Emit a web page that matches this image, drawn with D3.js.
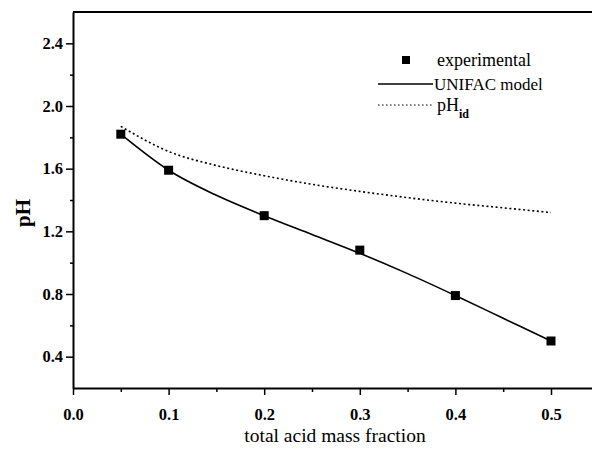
<!DOCTYPE html>
<html>
<head>
<meta charset="utf-8">
<script src="https://cdn.jsdelivr.net/npm/d3@7"></script>
<style>
  body { margin: 0; background: #fff; }
  svg { display: block; font-family: "Liberation Serif", "Times New Roman", serif; }
  text { fill: #000; }
</style>
</head>
<body>
<svg width="592" height="449"></svg>
<script>
// experimental points
const expX = [0.05, 0.1, 0.2, 0.3, 0.4, 0.5]
const expPH = [1.82, 1.59, 1.30, 1.08, 0.79, 0.50]

// UNIFAC model curve
const modelX = [0.05, 0.1, 0.15, 0.2, 0.25, 0.3, 0.35, 0.4, 0.45, 0.5]
const modelPH = [1.82, 1.59, 1.43, 1.30, 1.18, 1.06, 0.93, 0.79, 0.645, 0.50]

// ideal pH curve
const idX = [0.05, 0.1, 0.15, 0.2, 0.25, 0.3, 0.35, 0.4, 0.45, 0.5]
const idPH = [1.87, 1.71, 1.62, 1.555, 1.50, 1.455, 1.415, 1.38, 1.35, 1.32]

const xTicks = [0.0, 0.1, 0.2, 0.3, 0.4, 0.5]
const yTicks = [0.4, 0.8, 1.2, 1.6, 2.0, 2.4]

const plotLeft = 73, plotTop = 12, plotBottom = 388
const x = d3.scaleLinear([0, 0.55], [plotLeft, plotLeft + 0.55 * 956])
const y = d3.scaleLinear([0.2, 2.6], [plotBottom, plotTop])

const svg = d3.select('svg')

function styleTicks(g) {
    g.selectAll('text')
        .attr('font-size', 16.5).attr('font-weight', 'bold')
        .attr('font-family', 'Liberation Serif, serif').attr('fill', '#000')
}

// x axis, major + minor ticks
svg.append('g')
    .attr('transform', `translate(0,${plotBottom})`)
    .call(d3.axisBottom(x).tickValues(d3.range(0.05, 0.56, 0.1)).tickSize(4).tickFormat(''))
    .call(g => g.select('.domain').remove())
    .call(g => g.selectAll('line').attr('stroke-width', 1.5))
svg.append('g')
    .attr('transform', `translate(0,${plotBottom})`)
    .call(d3.axisBottom(x).tickValues(xTicks).tickSize(7).tickSizeOuter(0).tickPadding(13).tickFormat(d3.format('.1f')))
    .call(g => g.select('.domain').attr('stroke-width', 2))
    .call(g => g.selectAll('line').attr('stroke-width', 1.5))
    .call(styleTicks)

// y axis
svg.append('g')
    .attr('transform', `translate(${plotLeft},0)`)
    .call(d3.axisLeft(y).tickValues([0.6, 1.0, 1.4, 1.8, 2.2]).tickSize(3).tickFormat(''))
    .call(g => g.select('.domain').remove())
    .call(g => g.selectAll('line').attr('stroke-width', 1.5))
svg.append('g')
    .attr('transform', `translate(${plotLeft},0)`)
    .call(d3.axisLeft(y).tickValues(yTicks).tickSize(7).tickSizeOuter(0).tickPadding(3).tickFormat(d3.format('.1f')))
    .call(g => g.select('.domain').attr('stroke-width', 2))
    .call(g => g.selectAll('line').attr('stroke-width', 1.5))
    .call(styleTicks)

// top frame line
svg.append('line')
    .attr('x1', plotLeft).attr('x2', 592)
    .attr('y1', plotTop).attr('y2', plotTop)
    .attr('stroke', '#000').attr('stroke-width', 2)

const line = d3.line().x(d => x(d[0])).y(d => y(d[1])).curve(d3.curveMonotoneX)

svg.append('path')
    .datum(idX.map((v, i) => [v, idPH[i]]))
    .attr('d', line)
    .attr('fill', 'none').attr('stroke', '#000')
    .attr('stroke-width', 1.6).attr('stroke-dasharray', '2,2.6')

svg.append('path')
    .datum(modelX.map((v, i) => [v, modelPH[i]]))
    .attr('d', line)
    .attr('fill', 'none').attr('stroke', '#000').attr('stroke-width', 1.6)

svg.selectAll('rect.pt').data(expX.map((v, i) => [v, expPH[i]])).enter()
    .append('rect')
        .attr('class', 'pt')
        .attr('x', d => x(d[0]) - 4.5)
        .attr('y', d => y(d[1]) - 4.5)
        .attr('width', 9).attr('height', 9)
        .attr('fill', '#000')

// legend
const lg = svg.append('g')
lg.append('rect').attr('x', 402).attr('y', 56).attr('width', 8).attr('height', 8).attr('fill', '#000')
lg.append('text').attr('x', 437).attr('y', 66).attr('font-size', 18).text('experimental')
lg.append('line').attr('x1', 378).attr('x2', 433).attr('y1', 84).attr('y2', 84)
    .attr('stroke', '#000').attr('stroke-width', 1.4)
lg.append('text').attr('x', 434).attr('y', 90).attr('font-size', 17).text('UNIFAC model')
lg.append('line').attr('x1', 378).attr('x2', 433).attr('y1', 105).attr('y2', 105)
    .attr('stroke', '#000').attr('stroke-width', 1.2).attr('stroke-dasharray', '1.5,2.5')
const idLabel = lg.append('text').attr('x', 437).attr('y', 111).attr('font-size', 18)
idLabel.append('tspan').text('pH')
idLabel.append('tspan').attr('dy', 7).attr('font-size', 12).attr('font-weight', 'bold').text('id')

// axis titles
svg.append('text')
    .attr('x', 335).attr('y', 442)
    .attr('text-anchor', 'middle').attr('font-size', 19.5)
    .text('total acid mass fraction')

svg.append('text')
    .attr('transform', 'translate(30,213) rotate(-90)')
    .attr('text-anchor', 'middle').attr('font-size', 21).attr('font-weight', 'bold')
    .text('pH')
</script>
</body>
</html>
